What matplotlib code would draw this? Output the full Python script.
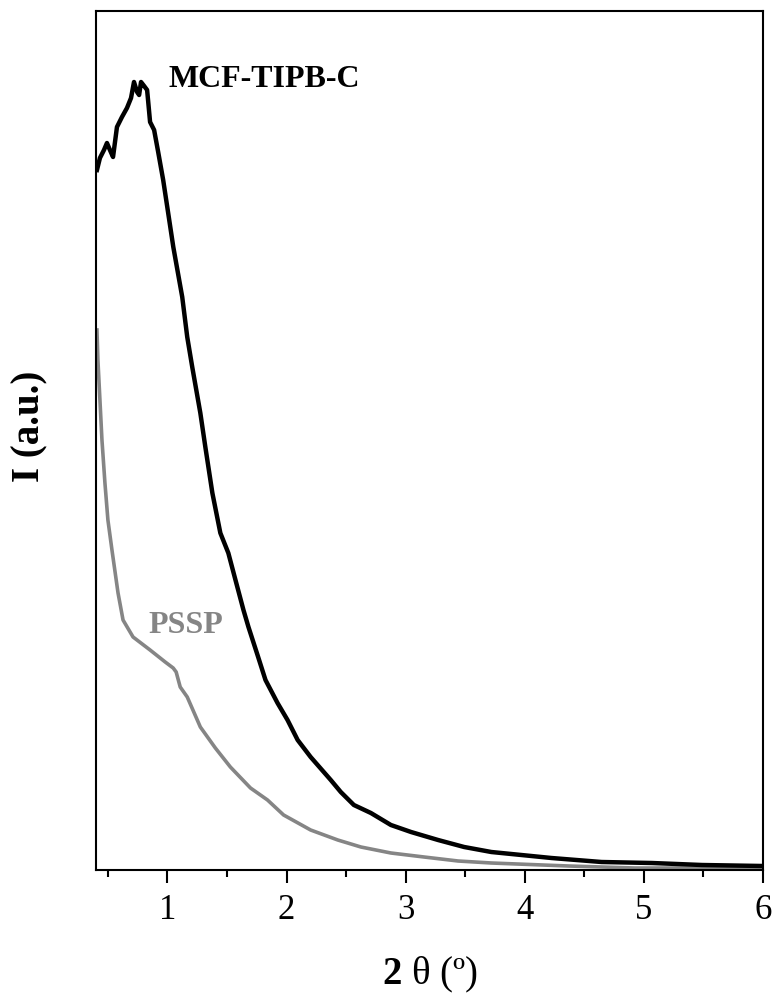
import matplotlib
matplotlib.use('Agg')
import matplotlib.pyplot as plt
from matplotlib.ticker import MultipleLocator

plt.rcParams['font.family'] = ['Liberation Serif', 'DejaVu Serif']
plt.rcParams['mathtext.fontset'] = 'custom'
plt.rcParams['mathtext.rm'] = 'Liberation Serif'
plt.rcParams['mathtext.bf'] = 'Liberation Serif:bold'

# MCF-TIPB-C (black)
mcf_x = [0.408, 0.433, 0.467, 0.492, 0.517, 0.543, 0.576, 0.618, 0.660, 0.694,
         0.719, 0.745, 0.762, 0.778, 0.804, 0.829, 0.837, 0.854, 0.888, 0.922,
         0.964, 1.006, 1.049, 1.124, 1.166, 1.208, 1.276, 1.318, 1.377, 1.444,
         1.511, 1.571, 1.638, 1.680, 1.756, 1.823, 1.924, 2.008, 2.093, 2.202,
         2.371, 2.455, 2.565, 2.708, 2.876, 3.045, 3.272, 3.491, 3.719, 4.224,
         4.645, 5.067, 5.488, 6.0]
mcf_i = [700, 712, 720, 727, 720, 713, 743, 753, 762, 772,
         788, 778, 775, 788, 784, 780, 770, 748, 740, 718,
         690, 657, 623, 573, 533, 503, 457, 423, 377, 337,
         317, 290, 260, 243, 215, 190, 167, 150, 130, 113,
         90, 78, 65, 57, 45, 38, 30, 23, 18, 12,
         8, 7, 5, 4]

# PSSP (grey)
pssp_x = [0.408, 0.416, 0.433, 0.450, 0.475, 0.500, 0.534, 0.585, 0.627, 0.711,
          0.854, 0.981, 1.048, 1.073, 1.107, 1.166, 1.276, 1.402, 1.528, 1.697,
          1.840, 1.975, 2.202, 2.430, 2.624, 2.876, 3.154, 3.440, 3.719, 4.367,
          4.923, 6.0]
pssp_i = [540, 510, 470, 430, 387, 350, 320, 277, 250, 233,
          220, 208, 202, 198, 183, 173, 143, 122, 103, 82,
          70, 55, 40, 30, 23, 17, 13, 9, 7, 4,
          2, 2]

fig = plt.figure(figsize=(7.77, 10), dpi=100)
ax = fig.add_axes([96/777, 1-870/1000, (763-96)/777, (870-11)/1000])

ax.plot(pssp_x, pssp_i, color='#858585', lw=2.6, solid_joinstyle='round')
ax.plot(mcf_x, mcf_i, color='black', lw=3.2, solid_joinstyle='round')

ax.text(1.006, 783, 'MCF-TIPB-C', fontsize=23, fontweight='bold', color='black',
        ha='left', va='baseline')
ax.text(0.837, 237, 'PSSP', fontsize=23, fontweight='bold', color='#858585',
        ha='left', va='baseline')

ax.set_xlim(0.4, 6.0)
ax.set_ylim(0, 859)
ax.set_yticks([])
ax.xaxis.set_major_locator(MultipleLocator(1))
ax.xaxis.set_minor_locator(MultipleLocator(0.5))
ax.tick_params(axis='x', which='major', direction='out', length=9.5, width=1.5,
               labelsize=25, pad=8)
ax.tick_params(axis='x', which='minor', direction='out', length=5, width=1.5)
for s in ax.spines.values():
    s.set_linewidth(1.5)

ax.set_xlabel(r'$\mathbf{2}$ θ (º)', fontsize=28, labelpad=20)
ax.set_ylabel('I (a.u.)', fontsize=28, fontweight='bold')
ax.yaxis.set_label_coords(-0.072, 0.516)

fig.savefig('out.png', dpi=100)
